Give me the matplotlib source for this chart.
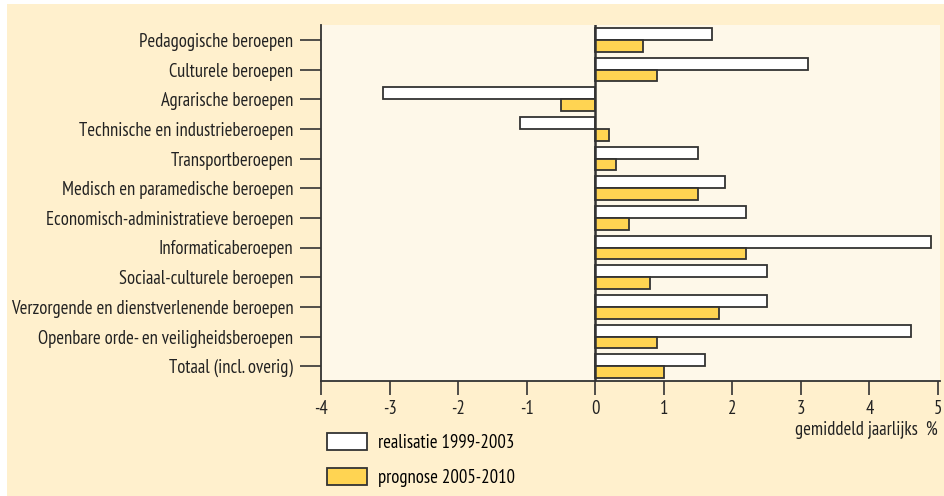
import matplotlib
matplotlib.use("Agg")
import matplotlib.pyplot as plt
from matplotlib import font_manager
from matplotlib.patches import Rectangle
import numpy as np

categories = [
    "Pedagogische beroepen",
    "Culturele beroepen",
    "Agrarische beroepen",
    "Technische en industrieberoepen",
    "Transportberoepen",
    "Medisch en paramedische beroepen",
    "Economisch-administratieve beroepen",
    "Informaticaberoepen",
    "Sociaal-culturele beroepen",
    "Verzorgende en dienstverlenende beroepen",
    "Openbare orde- en veiligheidsberoepen",
    "Totaal (incl. overig)",
]
realisatie = [1.7, 3.1, -3.1, -1.1, 1.5, 1.9, 2.2, 4.9, 2.5, 2.5, 4.6, 1.6]
prognose = [0.7, 0.9, -0.5, 0.2, 0.3, 1.5, 0.5, 2.2, 0.8, 1.8, 0.9, 1.0]
xticks = [-4, -3, -2, -1, 0, 1, 2, 3, 4, 5]
labels = ["realisatie 1999-2003", "prognose 2005-2010"]

# condensed font, like the original
names = {f.name for f in font_manager.fontManager.ttflist}
fam = "DejaVu Sans"
for cand in ["Myriad Pro Condensed", "PT Sans Narrow", "Asap Condensed", "Barlow Semi Condensed", "Archivo Narrow"]:
    if cand in names:
        fam = cand
        break
plt.rcParams["font.family"] = [fam, "DejaVu Sans"]
FS = 13.4

BG = "#FFF0CD"
PANEL = "#FEF8E9"
YELLOW = "#FFD452"
EDGE = "#333333"
TXT = "#222222"

fig = plt.figure(figsize=(9.44, 4.96), dpi=100, facecolor="white")
# orange box with a thin white margin at top and left
fig.patches.append(Rectangle((7 / 944, 0), 1, 1 - 4 / 496, transform=fig.transFigure,
                             facecolor=BG, edgecolor="none", zorder=-10))

ax = fig.add_axes([321 / 944, 1 - 381 / 496, 619 / 944, 356 / 496])
ax.set_facecolor(PANEL)

y = np.arange(len(categories))
h = 0.4
ax.barh(y - h / 2, realisatie, height=h, color="white", edgecolor=EDGE, linewidth=1.3, label=labels[0], zorder=3)
ax.barh(y + h / 2, prognose, height=h, color=YELLOW, edgecolor=EDGE, linewidth=1.3, label=labels[1], zorder=3)
ax.axvline(0, color=EDGE, linewidth=1.8, zorder=4)

ax.set_xlim(-4, 5.03)
ax.set_ylim(len(categories) - 0.5, -0.5)
ax.set_yticks(y)
ax.set_yticklabels(categories, fontsize=FS)
ax.set_xticks(xticks)
ax.set_xticklabels([str(v) for v in xticks], fontsize=FS)
ax.tick_params(axis="y", length=15, width=1.2, color=EDGE, pad=5, labelcolor=TXT)
ax.tick_params(axis="x", length=10, width=1.2, color=EDGE, pad=4, labelcolor=TXT)
for s in ["top", "right"]:
    ax.spines[s].set_visible(False)
for s in ["left", "bottom"]:
    ax.spines[s].set_color(EDGE)
    ax.spines[s].set_linewidth(1.3)

fig.text(938 / 944, 1 - 430 / 496, "gemiddeld jaarlijks  %", ha="right", va="center",
         fontsize=FS, color=TXT)

fig.legend(loc="upper left", bbox_to_anchor=(327 / 944, 1 - 433 / 496), frameon=False,
           fontsize=FS, handlelength=2.15, handleheight=1.02, labelspacing=0.86,
           handletextpad=0.6, borderpad=0, borderaxespad=0)

fig.savefig("out.png", dpi=100, facecolor="white")
